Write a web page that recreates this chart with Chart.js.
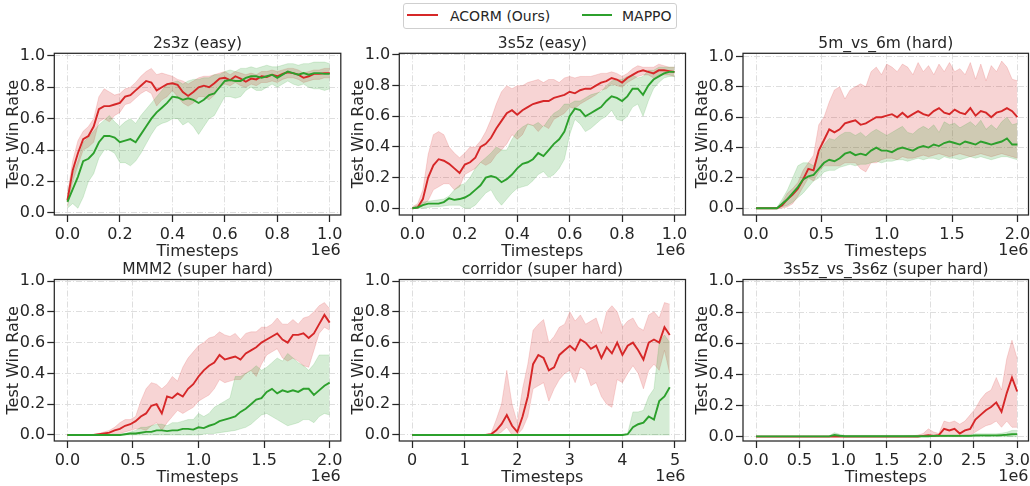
<!DOCTYPE html>
<html><head><meta charset="utf-8">
<script src="https://cdn.jsdelivr.net/npm/chart.js@4.4.0/dist/chart.umd.min.js"></script>
<style>
html,body{margin:0;padding:0;background:#fff;width:1030px;height:486px;overflow:hidden;position:relative;}
canvas{position:absolute;left:0;top:0;}
#legend{position:absolute;left:403px;top:3px;width:274px;height:26px;border:1px solid #cfcfcf;border-radius:3px;box-sizing:border-box;background:#fff;z-index:5;font-family:"DejaVu Sans";font-size:14px;color:#262626;}
#legend .ln{position:absolute;top:9.5px;height:2px;}
#legend .tx{position:absolute;top:3.5px;line-height:normal;white-space:nowrap;}
</style></head>
<body>
<div id="legend">
  <div class="ln" style="left:3px;width:31px;background:#d62728"></div>
  <span class="tx" style="left:46px">ACORM (Ours)</span>
  <div class="ln" style="left:177.5px;width:30px;background:#2ca02c"></div>
  <span class="tx" style="left:218px">MAPPO</span>
</div>
<script>
// ---------- x grids (units of 1e6 timesteps) ----------
const X_A = [0,0.02,0.04,0.06,0.08,0.10,0.12,0.14,0.16,0.18,0.20,0.22,0.24,0.26,0.28,0.30,0.32,0.34,0.36,0.38,0.40,0.42,0.44,0.46,0.48,0.50,0.52,0.54,0.56,0.58,0.60,0.62,0.64,0.66,0.68,0.70,0.72,0.74,0.76,0.78,0.80,0.82,0.84,0.86,0.88,0.90,0.92,0.94,0.96,0.98,1.00];
const X_B = [0,0.04,0.08,0.12,0.16,0.20,0.24,0.28,0.32,0.36,0.40,0.44,0.48,0.52,0.56,0.60,0.64,0.68,0.72,0.76,0.80,0.84,0.88,0.92,0.96,1.00,1.04,1.08,1.12,1.16,1.20,1.24,1.28,1.32,1.36,1.40,1.44,1.48,1.52,1.56,1.60,1.64,1.68,1.72,1.76,1.80,1.84,1.88,1.92,1.96,2.00];
const X_C = [0,0.1,0.2,0.3,0.4,0.5,0.6,0.7,0.8,0.9,1.0,1.1,1.2,1.3,1.4,1.5,1.6,1.7,1.8,1.9,2.0,2.1,2.2,2.3,2.4,2.5,2.6,2.7,2.8,2.9,3.0,3.1,3.2,3.3,3.4,3.5,3.6,3.7,3.8,3.9,4.0,4.1,4.2,4.3,4.4,4.5,4.6,4.7,4.8,4.9];
const X_D = [0,0.06,0.12,0.18,0.24,0.30,0.36,0.42,0.48,0.54,0.60,0.66,0.72,0.78,0.84,0.90,0.96,1.02,1.08,1.14,1.20,1.26,1.32,1.38,1.44,1.50,1.56,1.62,1.68,1.74,1.80,1.86,1.92,1.98,2.04,2.10,2.16,2.22,2.28,2.34,2.40,2.46,2.52,2.58,2.64,2.70,2.76,2.82,2.88,2.94,3.00];

// ---------- tick values / labels ----------
const XT_1 = [0,0.2,0.4,0.6,0.8,1.0];      const XL_1 = ['0.0','0.2','0.4','0.6','0.8','1.0'];
const XT_2 = [0,0.5,1.0,1.5,2.0];          const XL_2 = ['0.0','0.5','1.0','1.5','2.0'];
const XT_5 = [0,1,2,3,4,5];                const XL_5 = ['0','1','2','3','4','5'];
const XT_3 = [0,0.5,1.0,1.5,2.0,2.5,3.0];  const XL_3 = ['0.0','0.5','1.0','1.5','2.0','2.5','3.0'];
const YT = [0,0.2,0.4,0.6,0.8,1.0];        const YL = ['0.0','0.2','0.4','0.6','0.8','1.0'];

const TITLES = ['2s3z (easy)','3s5z (easy)','5m_vs_6m (hard)','MMM2 (super hard)','corridor (super hard)','3s5z_vs_3s6z (super hard)'];
const SERIES = ['ACORM (Ours)','MAPPO'];

// ---------- 2s3z ----------
const R1_MEAN = [0.08,0.27,0.38,0.47,0.49,0.55,0.66,0.68,0.68,0.69,0.70,0.74,0.75,0.78,0.81,0.84,0.83,0.78,0.80,0.82,0.825,0.815,0.77,0.745,0.77,0.80,0.81,0.80,0.825,0.855,0.86,0.845,0.87,0.855,0.835,0.855,0.85,0.87,0.865,0.88,0.87,0.885,0.895,0.89,0.88,0.86,0.87,0.885,0.885,0.89,0.89];
const R1_HI = [0.12,0.33,0.46,0.52,0.55,0.6,0.74,0.79,0.77,0.75,0.76,0.79,0.8,0.83,0.87,0.9,0.92,0.88,0.89,0.88,0.87,0.85,0.84,0.82,0.84,0.86,0.87,0.87,0.88,0.89,0.9,0.88,0.9,0.89,0.88,0.89,0.88,0.9,0.9,0.91,0.9,0.91,0.92,0.92,0.91,0.89,0.9,0.91,0.91,0.92,0.92];
const R1_LO = [0.04,0.2,0.3,0.4,0.42,0.45,0.58,0.6,0.58,0.62,0.64,0.69,0.7,0.73,0.76,0.78,0.76,0.68,0.72,0.74,0.78,0.74,0.7,0.68,0.7,0.74,0.74,0.72,0.75,0.8,0.82,0.81,0.83,0.81,0.8,0.82,0.81,0.83,0.83,0.84,0.83,0.85,0.86,0.86,0.85,0.83,0.84,0.85,0.85,0.86,0.86];
const G1_MEAN = [0.07,0.15,0.23,0.33,0.345,0.38,0.45,0.49,0.49,0.48,0.45,0.46,0.47,0.45,0.5,0.55,0.6,0.64,0.67,0.7,0.74,0.735,0.72,0.73,0.72,0.70,0.72,0.75,0.76,0.8,0.84,0.845,0.84,0.84,0.86,0.87,0.87,0.86,0.87,0.88,0.86,0.88,0.9,0.89,0.88,0.89,0.88,0.89,0.89,0.885,0.885];
const G1_HI = [0.12,0.25,0.33,0.45,0.48,0.52,0.56,0.59,0.62,0.58,0.55,0.58,0.6,0.57,0.62,0.66,0.7,0.74,0.78,0.82,0.83,0.84,0.82,0.84,0.85,0.85,0.86,0.86,0.88,0.88,0.9,0.91,0.9,0.92,0.92,0.93,0.92,0.93,0.94,0.93,0.93,0.94,0.95,0.95,0.94,0.95,0.95,0.96,0.96,0.96,0.95];
const G1_LO = [0.03,0.06,0.03,0.1,0.2,0.25,0.35,0.4,0.4,0.38,0.32,0.32,0.3,0.33,0.38,0.44,0.5,0.55,0.57,0.58,0.6,0.6,0.56,0.58,0.55,0.5,0.55,0.6,0.62,0.68,0.74,0.74,0.73,0.74,0.78,0.8,0.78,0.78,0.8,0.82,0.8,0.82,0.84,0.82,0.81,0.82,0.8,0.79,0.79,0.78,0.79];

// ---------- 3s5z ----------
const R2_MEAN = [0,0.005,0.06,0.2,0.28,0.32,0.31,0.29,0.26,0.23,0.285,0.3,0.33,0.4,0.42,0.46,0.52,0.57,0.62,0.64,0.61,0.64,0.66,0.68,0.69,0.7,0.7,0.72,0.73,0.74,0.76,0.75,0.77,0.78,0.78,0.8,0.82,0.83,0.85,0.84,0.82,0.85,0.87,0.89,0.9,0.89,0.88,0.9,0.9,0.895,0.89];
const R2_HI = [0.01,0.03,0.12,0.35,0.48,0.5,0.48,0.4,0.36,0.33,0.36,0.4,0.4,0.44,0.5,0.58,0.68,0.76,0.8,0.78,0.8,0.8,0.82,0.83,0.84,0.82,0.84,0.84,0.82,0.85,0.86,0.85,0.86,0.86,0.86,0.87,0.88,0.88,0.89,0.88,0.86,0.88,0.91,0.93,0.92,0.92,0.92,0.94,0.93,0.92,0.92];
const R2_LO = [0,0,0.02,0.05,0.12,0.14,0.16,0.16,0.12,0.14,0.22,0.24,0.26,0.3,0.28,0.3,0.35,0.38,0.42,0.48,0.45,0.48,0.55,0.54,0.5,0.54,0.52,0.58,0.6,0.62,0.66,0.65,0.68,0.7,0.72,0.74,0.77,0.78,0.81,0.8,0.79,0.82,0.84,0.86,0.87,0.87,0.85,0.87,0.87,0.87,0.86];
const G2_MEAN = [0,0.005,0.02,0.03,0.03,0.03,0.04,0.065,0.055,0.06,0.07,0.09,0.12,0.15,0.2,0.21,0.2,0.17,0.19,0.22,0.26,0.29,0.3,0.32,0.36,0.34,0.38,0.42,0.45,0.5,0.6,0.65,0.64,0.6,0.62,0.64,0.66,0.7,0.73,0.72,0.7,0.73,0.78,0.78,0.74,0.8,0.84,0.86,0.88,0.89,0.89];
const G2_HI = [0.005,0.02,0.04,0.045,0.05,0.055,0.06,0.08,0.12,0.15,0.16,0.2,0.26,0.3,0.33,0.36,0.4,0.38,0.38,0.45,0.5,0.53,0.55,0.54,0.56,0.53,0.58,0.62,0.64,0.68,0.68,0.7,0.7,0.72,0.74,0.75,0.76,0.8,0.83,0.84,0.84,0.86,0.87,0.85,0.86,0.9,0.9,0.92,0.92,0.92,0.92];
const G2_LO = [0,0,0,0.005,0.01,0.01,0.015,0.02,0.02,0.02,0,0,0.02,0.06,0.1,0.12,0.06,0.02,0.06,0.1,0.13,0.14,0.15,0.18,0.22,0.24,0.2,0.22,0.26,0.32,0.48,0.58,0.55,0.5,0.52,0.55,0.58,0.6,0.64,0.58,0.57,0.6,0.66,0.68,0.6,0.7,0.78,0.82,0.85,0.86,0.86];

// ---------- 5m_vs_6m ----------
const R3_MEAN = [0,0,0,0,0,0.02,0.06,0.09,0.13,0.19,0.26,0.25,0.38,0.45,0.52,0.5,0.52,0.56,0.57,0.58,0.55,0.56,0.58,0.6,0.6,0.61,0.62,0.6,0.63,0.6,0.62,0.64,0.62,0.61,0.64,0.66,0.63,0.62,0.65,0.63,0.62,0.66,0.61,0.64,0.63,0.6,0.63,0.64,0.66,0.64,0.6];
const R3_HI = [0,0,0,0,0,0.04,0.1,0.13,0.17,0.25,0.3,0.35,0.55,0.6,0.7,0.78,0.8,0.72,0.78,0.8,0.82,0.8,0.9,0.93,0.88,0.95,0.93,0.9,0.95,0.93,0.88,0.96,0.9,0.94,0.88,0.95,0.9,0.96,0.9,0.92,0.88,0.96,0.85,0.95,0.84,0.94,0.9,0.97,0.93,0.85,0.84];
const R3_LO = [0,0,0,0,0,0,0.01,0.03,0.08,0.14,0.2,0.18,0.24,0.28,0.28,0.28,0.28,0.3,0.3,0.3,0.26,0.24,0.3,0.3,0.32,0.33,0.33,0.32,0.34,0.33,0.33,0.34,0.35,0.34,0.35,0.36,0.35,0.34,0.35,0.36,0.35,0.34,0.35,0.36,0.35,0.34,0.35,0.36,0.35,0.34,0.33];
const G3_MEAN = [0,0,0,0,0,0.03,0.06,0.1,0.14,0.19,0.21,0.22,0.26,0.3,0.32,0.31,0.33,0.36,0.37,0.35,0.36,0.35,0.38,0.4,0.38,0.38,0.37,0.39,0.4,0.39,0.38,0.4,0.41,0.4,0.42,0.41,0.43,0.44,0.43,0.42,0.44,0.43,0.42,0.44,0.43,0.42,0.43,0.44,0.46,0.42,0.42];
const G3_HI = [0,0,0,0,0.005,0.06,0.12,0.2,0.28,0.3,0.3,0.28,0.36,0.42,0.46,0.45,0.48,0.5,0.5,0.48,0.5,0.47,0.5,0.52,0.5,0.48,0.5,0.52,0.54,0.5,0.49,0.52,0.54,0.52,0.55,0.5,0.57,0.55,0.56,0.53,0.55,0.57,0.54,0.58,0.52,0.55,0.52,0.57,0.6,0.55,0.56];
const G3_LO = [0,0,0,0,0,0.01,0.02,0.04,0.07,0.1,0.14,0.18,0.2,0.24,0.25,0.25,0.27,0.28,0.29,0.28,0.29,0.29,0.3,0.31,0.3,0.31,0.31,0.32,0.32,0.31,0.32,0.33,0.32,0.33,0.33,0.32,0.34,0.33,0.33,0.32,0.33,0.34,0.33,0.34,0.33,0.32,0.33,0.34,0.34,0.33,0.32];

// ---------- MMM2 ----------
const R4_MEAN = [0,0,0,0,0,0,0.005,0.01,0.015,0.03,0.04,0.06,0.07,0.09,0.12,0.14,0.19,0.2,0.14,0.25,0.24,0.27,0.25,0.3,0.33,0.38,0.42,0.45,0.47,0.52,0.49,0.5,0.51,0.49,0.53,0.55,0.57,0.6,0.62,0.64,0.66,0.62,0.6,0.65,0.65,0.66,0.63,0.66,0.72,0.78,0.73];
const R4_HI = [0,0,0,0,0,0.005,0.01,0.02,0.03,0.05,0.08,0.1,0.1,0.12,0.22,0.3,0.34,0.33,0.3,0.33,0.38,0.35,0.44,0.5,0.54,0.58,0.6,0.63,0.64,0.67,0.65,0.64,0.66,0.62,0.66,0.67,0.67,0.7,0.7,0.72,0.76,0.72,0.72,0.75,0.72,0.76,0.77,0.8,0.84,0.86,0.82];
const R4_LO = [0,0,0,0,0,0,0,0,0,0.01,0.01,0.02,0.03,0.04,0.04,0.03,0.06,0.08,0.03,0.08,0.12,0.16,0.14,0.16,0.18,0.22,0.24,0.26,0.3,0.36,0.34,0.35,0.36,0.36,0.4,0.42,0.38,0.46,0.52,0.54,0.56,0.5,0.48,0.5,0.48,0.45,0.44,0.55,0.66,0.7,0.68];
const G4_MEAN = [0,0,0,0,0,0,0,0,0,0,0,0.005,0.01,0.01,0.015,0.02,0.02,0.03,0.03,0.025,0.03,0.03,0.04,0.04,0.035,0.05,0.045,0.06,0.07,0.09,0.1,0.11,0.12,0.15,0.17,0.2,0.23,0.24,0.28,0.3,0.27,0.29,0.28,0.29,0.28,0.3,0.3,0.26,0.29,0.32,0.34];
const G4_HI = [0,0,0,0,0,0,0,0,0,0,0,0.01,0.02,0.03,0.05,0.05,0.06,0.07,0.07,0.06,0.08,0.08,0.09,0.1,0.1,0.14,0.12,0.14,0.18,0.2,0.22,0.24,0.38,0.38,0.4,0.42,0.45,0.42,0.44,0.47,0.5,0.48,0.53,0.5,0.47,0.45,0.42,0.46,0.52,0.52,0.52];
const G4_LO = [0,0,0,0,0,0,0,0,0,0,
               0,0,0,0,0,0,0,0,0,0,
               0,0,0,0,0,0,0.005,0.01,0.01,0.015,0.02,0.025,0.03,0.04,0.05,0.07,0.1,0.13,0.14,0.12,0.1,0.08,0.06,0.07,0.08,0.1,0.1,0.08,0.12,0.14,0.13];

// ---------- corridor ----------
const R5_MEAN = [0,0,0,0,0,0,0,0,0,0,
                 0,0,0,0,0,0.005,0.03,0.07,0.13,0.06,
                 0.02,0.12,0.25,0.46,0.52,0.5,0.42,0.44,0.52,0.55,
                 0.58,0.55,0.62,0.6,0.56,0.58,0.5,0.57,0.53,0.6,
                 0.52,0.58,0.6,0.55,0.49,0.6,0.62,0.6,0.7,0.65];
const R5_HI = [0,0,0,0,0,0,0,0,0,0,
               0,0,0,0,0.005,0.01,0.1,0.2,0.42,0.2,
               0.08,0.3,0.46,0.68,0.72,0.75,0.6,0.64,0.7,0.72,
               0.8,0.74,0.78,0.72,0.74,0.76,0.66,0.8,0.84,0.8,
               0.7,0.74,0.76,0.7,0.68,0.78,0.8,0.76,0.86,0.85];
const R5_LO = [0,0,0,0,0,0,0,0,0,0,
               0,0,0,0,0,0,0,0.02,0.05,0,
               0,0.04,0.12,0.3,0.32,0.34,0.22,0.3,0.36,0.4,
               0.42,0.34,0.44,0.42,0.32,0.34,0.25,0.2,0.18,0.36,
               0.34,0.4,0.45,0.4,0.3,0.42,0.46,0.42,0.55,0.4];
const G5_MEAN = [0,0,0,0,0,0,0,0,0,0,
                 0,0,0,0,0,0,0,0,0,0,
                 0,0,0,0,0,0,0,0,0,0,
                 0,0,0,0,0,0,0,0,0,0,
                 0,0.005,0.05,0.07,0.08,0.12,0.1,0.22,0.25,0.31];
const G5_HI = [0,0,0,0,0,0,0,0,0,0,
               0,0,0,0,0,0,0,0,0,0,
               0,0,0,0,0,0,0,0,0,0,
               0,0,0,0,0,0,0,0,0,0,
               0,0.01,0.15,0.15,0.16,0.25,0.3,0.6,0.65,0.6];
const G5_LO = [0,0,0,0,0,0,0,0,0,0,
               0,0,0,0,0,0,0,0,0,0,
               0,0,0,0,0,0,0,0,0,0,
               0,0,0,0,0,0,0,0,0,0,
               0,0,0,0,0,0,0,0,0,0];

// ---------- 3s5z_vs_3s6z ----------
const R6_MEAN = [0,0,0,0,0,0,0,0,0,0,
                 0,0,0,0,0,0,0,0,0,0,
                 0,0,0,0,0,0,0,0,0,0,
                 0,0,0.005,0.01,0.005,0.01,0.05,0.04,0.05,0.02,
                 0.04,0.05,0.11,0.14,0.17,0.19,0.22,0.16,0.28,0.38,
                 0.29];
const R6_HI = [0,0,0,0,0,0,0,0,0,0,
               0,0,0,0,0,0,0,0,0,0,
               0,0,0,0,0,0,0,0,0,0.005,
               0.005,0.01,0.02,0.05,0.03,0.02,0.1,0.09,0.1,0.08,
               0.1,0.14,0.18,0.24,0.28,0.3,0.38,0.3,0.5,0.62,
               0.5];
const R6_LO = [0,0,0,0,0,0,0,0,0,0,
               0,0,0,0,0,0,0,0,0,0,
               0,0,0,0,0,0,0,0,0,0,
               0,0,0,0,0,0,0,0,0,0,
               0.01,0.01,0.03,0.05,0.07,0.08,0.1,0.06,0.1,0.06,
               0.06];
const G6_MEAN = [0.002,0.002,0.002,0.002,0.002,0.002,0.002,0.002,0.002,0.002,
                 0.002,0.002,0.002,0.002,0.002,0.01,0.006,0.003,0.003,0.003,
                 0.003,0.003,0.003,0.003,0.003,0.003,0.003,0.003,0.003,0.003,
                 0.003,0.003,0.003,0.003,0.005,0.005,0.005,0.005,0.005,0.005,
                 0.005,0.005,0.008,0.008,0.008,0.008,0.008,0.01,0.012,0.015,
                 0.016];
const G6_HI = [0.006,0.006,0.006,0.006,0.006,0.006,0.006,0.006,0.006,0.006,
               0.006,0.006,0.006,0.006,0.006,0.025,0.015,0.008,0.008,0.008,
               0.008,0.008,0.008,0.008,0.008,0.008,0.008,0.008,0.008,0.008,
               0.008,0.008,0.008,0.008,0.012,0.012,0.012,0.012,0.012,0.012,
               0.012,0.012,0.018,0.018,0.018,0.018,0.018,0.022,0.028,0.04,
               0.04];
const G6_LO = [0,0,0,0,0,0,0,0,0,0,
               0,0,0,0,0,0,0,0,0,0,
               0,0,0,0,0,0,0,0,0,0,
               0,0,0,0,0,0,0,0,0,0,
               0,0,0,0,0,0,0,0,0,0,
               0];

// ---------- layout / style ----------
const RED = '#d62728', GREEN = '#2ca02c';
const RED_FILL = 'rgba(214,39,40,0.2)', GREEN_FILL = 'rgba(44,160,44,0.2)';
const INK = '#262626', GRID = '#dedede';
const FONT = '"DejaVu Sans"';
const W = 1030, H = 486, WY = 40, HX = 30;

const PANELS = [
  {title:TITLES[0], rect:[54.3,53.3,340.8,215], xr:[-0.05,1.042], yr:[-0.013,1.016], xs:X_A, xt:XT_1, xl:XL_1,
   r:[R1_MEAN,R1_LO,R1_HI], g:[G1_MEAN,G1_LO,G1_HI]},
  {title:TITLES[1], rect:[399.3,53.3,685.5,215], xr:[-0.05,1.042], yr:[-0.044,1.011], xs:X_A, xt:XT_1, xl:XL_1,
   r:[R2_MEAN,R2_LO,R2_HI], g:[G2_MEAN,G2_LO,G2_HI]},
  {title:TITLES[2], rect:[743,53.3,1028.5,215], xr:[-0.1,2.085], yr:[-0.044,1.021], xs:X_B, xt:XT_2, xl:XL_2,
   r:[R3_MEAN,R3_LO,R3_HI], g:[G3_MEAN,G3_LO,G3_HI]},
  {title:TITLES[3], rect:[54.3,279.5,340.8,441], xr:[-0.1,2.085], yr:[-0.039,1.01], xs:X_B, xt:XT_2, xl:XL_2,
   r:[R4_MEAN,R4_LO,R4_HI], g:[G4_MEAN,G4_LO,G4_HI]},
  {title:TITLES[4], rect:[399.3,279.5,685.5,441], xr:[-0.245,5.2], yr:[-0.039,1.01], xs:X_C, xt:XT_5, xl:XL_5,
   r:[R5_MEAN,R5_LO,R5_HI], g:[G5_MEAN,G5_LO,G5_HI]},
  {title:TITLES[5], rect:[743,279.5,1028.5,441], xr:[-0.15,3.13], yr:[-0.028,1.01], xs:X_D, xt:XT_3, xl:XL_3,
   r:[R6_MEAN,R6_LO,R6_HI], g:[G6_MEAN,G6_LO,G6_HI]}
];

const decor = {
  id: 'decor',
  afterDraw(chart, args, opts) {
    const {ctx, chartArea: a} = chart;
    ctx.save();
    ctx.strokeStyle = INK; ctx.lineWidth = 1.25;
    ctx.strokeRect(a.left, a.top, a.right - a.left, a.bottom - a.top);
    ctx.fillStyle = INK;
    ctx.textBaseline = 'alphabetic';
    ctx.textAlign = 'center';
    ctx.font = '15.5px ' + FONT;
    ctx.fillText(opts.title, (a.left + a.right) / 2, a.top - 5.5);
    ctx.font = '16px ' + FONT;
    ctx.fillText('Timesteps', (a.left + a.right) / 2, a.bottom + 41);
    ctx.textAlign = 'right';
    ctx.fillText('1e6', a.right, a.bottom + 39.5);
    ctx.translate(a.left - 36, (a.top + a.bottom) / 2);
    ctx.rotate(-Math.PI / 2);
    ctx.textAlign = 'center';
    ctx.fillText('Test Win Rate', 0, 0);
    ctx.restore();
  }
};

function pts(xs, ys) { return xs.map((x, i) => ({x: x, y: ys[i]})); }
function meanLine(xs, ys, color, label) {
  return {label: label, data: pts(xs, ys), borderColor: color, borderWidth: 1.9, pointRadius: 0, fill: false, tension: 0};
}
function bandPair(xs, hi, lo, fillColor) {
  return [
    {data: pts(xs, hi), borderColor: fillColor, borderWidth: 0.8, backgroundColor: fillColor, fill: '+1', pointRadius: 0, tension: 0},
    {data: pts(xs, lo), borderColor: fillColor, borderWidth: 0.8, fill: false, pointRadius: 0, tension: 0}
  ];
}

function axisCommon(ticksVals, labels, isX) {
  return {
    type: 'linear',
    afterBuildTicks: s => { s.ticks = ticksVals.map(v => ({value: v})); },
    ticks: {
      autoSkip: false, maxRotation: 0, minRotation: 0,
      callback: (v, i) => labels[i],
      font: {family: 'DejaVu Sans', size: 16}, color: INK,
      padding: isX ? 3 : 2
    },
    grid: {color: GRID, lineWidth: 1, tickColor: INK, tickWidth: 1.25, tickLength: 7, drawTicks: true},
    border: {display: false, dash: [6, 2, 1, 2]}
  };
}

PANELS.forEach(p => {
  const cv = document.createElement('canvas');
  cv.width = W; cv.height = H;
  cv.style.width = W + 'px'; cv.style.height = H + 'px';
  document.body.appendChild(cv);
  const [L, T, R, B] = p.rect;
  const xAxis = axisCommon(p.xt, p.xl, true);
  xAxis.min = p.xr[0]; xAxis.max = p.xr[1];
  xAxis.afterFit = s => { s.height = HX; s.paddingLeft = 0; s.paddingRight = 0; };
  const yAxis = axisCommon(YT, YL, false);
  yAxis.min = p.yr[0]; yAxis.max = p.yr[1];
  yAxis.afterFit = s => { s.width = WY; s.paddingTop = 0; s.paddingBottom = 0; };
  new Chart(cv, {
    type: 'line',
    data: {datasets: [
      meanLine(p.xs, p.g[0], GREEN, SERIES[1]),
      meanLine(p.xs, p.r[0], RED, SERIES[0]),
      ...bandPair(p.xs, p.g[2], p.g[1], GREEN_FILL),
      ...bandPair(p.xs, p.r[2], p.r[1], RED_FILL)
    ]},
    options: {
      responsive: false, animation: false, devicePixelRatio: 1,
      layout: {padding: {left: L - WY, top: T, right: W - R, bottom: H - B - HX}},
      plugins: {legend: {display: false}, tooltip: {enabled: false}, title: {display: false}, decor: {title: p.title}},
      scales: {x: xAxis, y: yAxis}
    },
    plugins: [decor]
  });
});
</script>
</body></html>
